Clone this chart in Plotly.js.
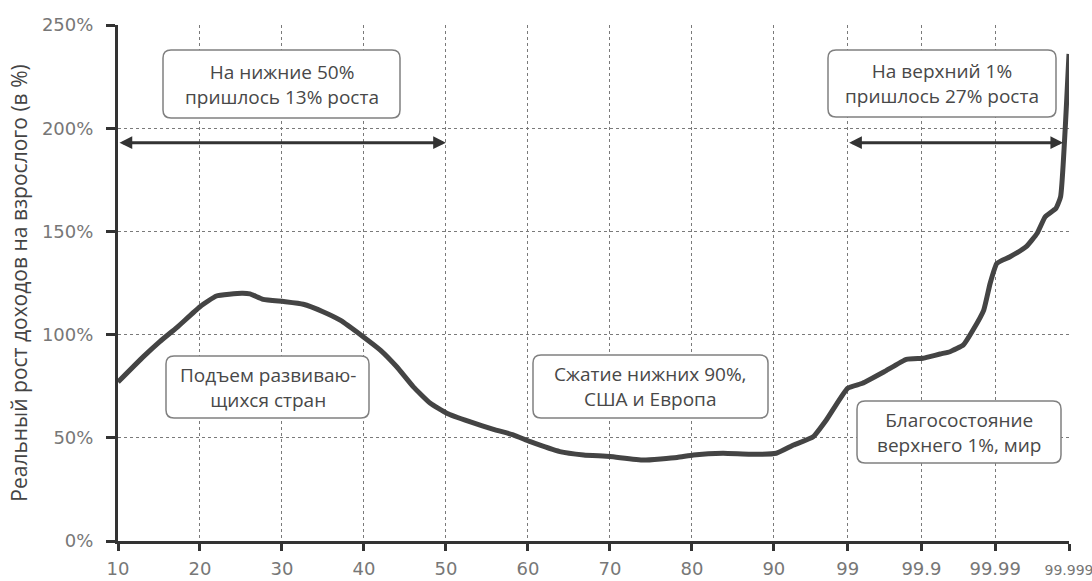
<!DOCTYPE html>
<html>
<head>
<meta charset="utf-8">
<script src="https://cdn.plot.ly/plotly-3.0.1.min.js"></script>
<style>html,body{margin:0;padding:0;background:#fff;}#chart{width:1092px;height:581px;}</style>
</head>
<body>
<div id="chart"></div>
<script>
// ---- data ----
const tickPercentiles = [10, 20, 30, 40, 50, 60, 70, 80, 90, 99, 99.9, 99.99, 99.999];
const tickLabels = ['10','20','30','40','50','60','70','80','90','99','99.9','99.99','<span style="font-size:14px">99.999</span>'];
const percentile = [10, 13.1, 15.1, 17.2, 20, 22, 25.1, 26.1, 27.7, 30.2, 32.6, 35, 37.1, 39.9, 42, 44, 46, 48.1, 50.1, 52.9, 55.8, 58.2, 60.3, 63.9, 66.8, 70, 74.1, 78.2, 80.2, 83.8, 87.1, 90.3, 92.4, 94.8, 96.4, 99.0, 99.37, 99.68, 99.84, 99.905, 99.923, 99.944, 99.959, 99.973, 99.980, 99.9857, 99.9883, 99.9905, 99.9937, 99.9962, 99.9973, 99.9979, 99.9985, 99.9987, 99.999];
const growth = [77, 89.3, 96.6, 103.5, 113.5, 118.7, 120.0, 119.7, 117.1, 116, 114.7, 111.1, 107, 99, 92.5, 84.4, 74.8, 66.7, 61.9, 57.8, 54.1, 51.4, 48.1, 43.3, 41.7, 40.9, 39.2, 40.5, 41.7, 42.5, 42, 42.5, 46.5, 50.5, 58.6, 74, 76.4, 82, 88, 88.5, 89.3, 90.6, 91.7, 95, 102.2, 111.9, 124.9, 134.5, 137.7, 142.6, 149.1, 157.1, 161.2, 166.8, 236];
const yTicks = [0, 50, 100, 150, 200, 250];
const yTickLabels = ['0%', '50%', '100%', '150%', '200%', '250%'];
const arrowY = 193;
const bottomArrow = [10, 50];      // percentiles
const topArrow = [99, 99.9988];    // percentiles
const notes = [
  'На нижние 50%<br>пришлось 13% роста',
  'Подъем развиваю-<br>щихся стран',
  'Сжатие нижних 90%,<br>США и Европа',
  'Благосостояние<br>верхнего 1%, мир',
  'На верхний 1%<br>пришлось 27% роста'
];

// axis scale: linear up to 99, then each further "9" adds one step
function pos(p) {
  return p <= 99 ? p : 99 + 9 * Math.log10(1 / (100 - p));
}

// ---- layout helpers ----
const W = 1092, H = 581;
const M = {l: 118, r: 23, t: 25, b: 40};
const PW = W - M.l - M.r, PH = H - M.t - M.b;
const px2x = x => (x - M.l) / PW;
const px2y = y => (H - M.b - y) / PH;

function roundBox(x0, x1, y0, y1, r) {
  const P = (x, y) => px2x(x).toFixed(5) + ',' + px2y(y).toFixed(5);
  const d = 'M' + P(x0 + r, y0) + ' L' + P(x1 - r, y0) + ' Q' + P(x1, y0) + ' ' + P(x1, y0 + r) +
    ' L' + P(x1, y1 - r) + ' Q' + P(x1, y1) + ' ' + P(x1 - r, y1) +
    ' L' + P(x0 + r, y1) + ' Q' + P(x0, y1) + ' ' + P(x0, y1 - r) +
    ' L' + P(x0, y0 + r) + ' Q' + P(x0, y0) + ' ' + P(x0 + r, y0) + ' Z';
  return {type: 'path', xref: 'paper', yref: 'paper', path: d,
    line: {color: '#808080', width: 1.5}, fillcolor: '#ffffff', layer: 'above'};
}

const boxes = [
  [163, 400, 50, 118],
  [166, 369, 356, 418],
  [533, 768, 355, 418],
  [857, 1061, 401, 463],
  [828, 1056, 50, 117]
];

const shapes = boxes.map(b => roundBox(b[0], b[1], b[2], b[3], 8));
const annotations = boxes.map((b, i) => ({
  xref: 'paper', yref: 'paper',
  x: px2x((b[0] + b[1]) / 2), y: px2y((b[2] + b[3]) / 2),
  xanchor: 'center', yanchor: 'middle',
  text: notes[i], showarrow: false,
  font: {family: '"Open Sans", sans-serif', size: 19, color: '#484848'},
  align: 'center'
}));

function dblArrow(p0, p1) {
  return {
    xref: 'x', yref: 'y', axref: 'x', ayref: 'y',
    x: pos(p1), y: arrowY, ax: pos(p0), ay: arrowY,
    text: '', showarrow: true,
    arrowhead: 2, startarrowhead: 2, arrowside: 'end+start',
    arrowsize: 0.85, startarrowsize: 0.85, arrowwidth: 3, arrowcolor: '#333',
    standoff: 0, startstandoff: 0
  };
}
annotations.push(dblArrow(bottomArrow[0], bottomArrow[1]));
annotations.push(dblArrow(topArrow[0], topArrow[1]));

const trace = {
  x: percentile.map(pos), y: growth,
  type: 'scatter', mode: 'lines',
  line: {color: '#444444', width: 5, shape: 'spline', smoothing: 0.4},
  hoverinfo: 'skip'
};

const tickFont = {family: '"DejaVu Sans", sans-serif', size: 18, color: '#777'};

const layout = {
  width: W, height: H,
  margin: M,
  paper_bgcolor: '#fff', plot_bgcolor: '#fff',
  showlegend: false,
  xaxis: {
    range: [pos(10), pos(99.999)],
    tickmode: 'array', tickvals: tickPercentiles.map(pos), ticktext: tickLabels,
    showgrid: true, gridcolor: '#7a7a7a', griddash: 'dot', gridwidth: 1,
    showline: true, linecolor: '#333', linewidth: 3,
    ticks: 'outside', ticklen: 7, tickwidth: 3, tickcolor: '#333',
    ticklabelstandoff: 2, ticklabeloverflow: 'allow',
    tickfont: tickFont,
    zeroline: false, fixedrange: true
  },
  yaxis: {
    range: [0, 250],
    tickmode: 'array', tickvals: yTicks, ticktext: yTickLabels,
    showgrid: true, gridcolor: '#7a7a7a', griddash: 'dot', gridwidth: 1,
    showline: true, linecolor: '#333', linewidth: 3,
    ticks: 'outside', ticklen: 9, tickwidth: 3, tickcolor: '#333',
    ticklabelstandoff: 9,
    tickfont: tickFont,
    zeroline: false, fixedrange: true,
    title: {text: 'Реальный рост доходов на взрослого (в %)', standoff: 9,
      font: {family: '"Open Sans", sans-serif', size: 21, color: '#444'}}
  },
  shapes: shapes,
  annotations: annotations
};

Plotly.newPlot('chart', [trace], layout, {staticPlot: true, displayModeBar: false});
</script>
</body>
</html>
